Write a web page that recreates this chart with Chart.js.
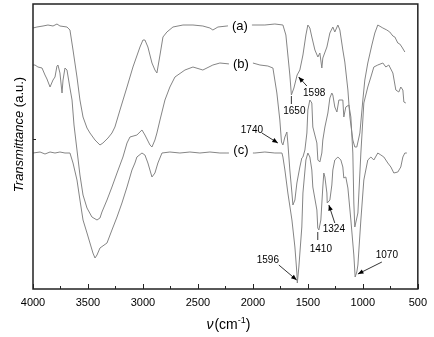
<!DOCTYPE html>
<html>
<head>
<meta charset="utf-8">
<script src="https://cdn.jsdelivr.net/npm/chart.js@4"></script>
<style>
  body { margin: 0; background: #fff; }
  #wrap { width: 434px; height: 337px; }
</style>
</head>
<body>
<div id="wrap"><canvas id="ftir" width="434" height="337"></canvas></div>
<script>
// wavenumber (cm-1) and transmittance (a.u., curves stacked)
const waveA = [4000,3964,3909,3864,3818,3782,3755,3691,3664,3636,3600,3573,3545,3509,3482,3436,3391,3364,3318,3282,3255,3209,3145,3091,3027,3000,2982,2955,2918,2891,2873,2845,2818,2782,2727,2636,2545,2455,2391,2364,2318,2236,2164,2000,1891,1800,1727,1700,1682,1664,1650,1627,1609,1598,1573,1545,1518,1500,1482,1464,1436,1409,1391,1373,1364,1327,1300,1273,1255,1227,1209,1182,1164,1136,1118,1091,1073,1055,1027,1000,982,955,918,891,864,818,782,755,727,709,682,664,645,618];
const transA = [2.61,2.62,2.63,2.64,2.63,2.65,2.63,2.62,2.59,2.39,2.12,1.89,1.72,1.61,1.56,1.49,1.44,1.46,1.51,1.56,1.62,1.79,2.02,2.22,2.42,2.49,2.49,2.42,2.26,2.19,2.16,2.34,2.52,2.57,2.62,2.64,2.64,2.63,2.61,2.59,2.62,2.63,2.64,2.64,2.64,2.65,2.64,2.54,2.34,2.14,1.94,2.01,2.09,2.14,2.19,2.34,2.54,2.64,2.61,2.52,2.39,2.32,2.36,2.21,2.31,2.42,2.56,2.62,2.57,2.64,2.59,2.39,2.27,1.99,1.72,1.49,1.42,1.42,1.56,1.89,2.09,2.26,2.44,2.56,2.64,2.61,2.59,2.57,2.53,2.52,2.46,2.45,2.42,2.37];

const waveB = [4000,3982,3955,3918,3891,3873,3845,3818,3800,3782,3773,3755,3736,3727,3709,3691,3664,3645,3627,3600,3573,3545,3509,3464,3418,3391,3373,3327,3282,3236,3182,3145,3118,3055,3009,2982,2936,2918,2891,2873,2845,2800,2755,2709,2618,2545,2455,2364,2300,2209,2000,1936,1864,1818,1782,1755,1740,1727,1709,1691,1682,1664,1645,1636,1618,1600,1573,1555,1545,1527,1509,1500,1482,1464,1455,1418,1409,1391,1373,1364,1345,1318,1300,1282,1273,1255,1236,1218,1182,1173,1155,1127,1109,1091,1082,1073,1045,1018,991,955,927,900,864,818,791,764,727,700,673,655,636,627,609];
const transB = [2.24,2.24,2.22,2.21,2.14,2.10,2.02,2.09,2.12,2.23,2.24,2.16,1.96,2.09,2.21,2.19,2.01,1.89,1.64,1.39,1.14,0.94,0.81,0.72,0.69,0.71,0.77,0.89,1.02,1.16,1.32,1.46,1.52,1.54,1.59,1.54,1.44,1.42,1.49,1.56,1.69,1.89,2.02,2.12,2.19,2.22,2.19,2.24,2.26,2.25,2.26,2.24,2.23,2.21,1.96,1.69,1.47,1.44,1.52,1.57,1.46,1.19,0.96,0.84,0.89,1.06,1.22,1.31,1.32,1.39,1.56,1.79,1.89,1.86,1.62,1.46,1.29,1.27,1.36,1.49,1.62,1.76,1.91,1.96,1.94,1.82,1.77,1.89,1.89,1.72,1.82,1.84,1.72,1.36,0.86,0.62,0.76,1.36,1.86,2.02,2.12,2.22,2.24,2.26,2.22,2.24,2.16,1.99,1.97,2.02,1.99,1.87,1.86];

const waveC = [4000,3936,3891,3845,3800,3755,3709,3664,3636,3600,3573,3545,3509,3482,3455,3436,3418,3391,3327,3282,3236,3191,3145,3100,3073,3055,3009,2982,2955,2918,2891,2864,2827,2755,2664,2573,2482,2391,2300,2236,1982,1891,1800,1736,1727,1709,1682,1645,1618,1600,1596,1582,1555,1545,1518,1500,1482,1464,1455,1418,1410,1400,1382,1364,1355,1345,1327,1324,1300,1282,1273,1255,1227,1200,1182,1173,1155,1136,1109,1082,1070,1055,1045,1018,991,955,927,900,864,836,809,773,745,718,682,655,636,618,600];
const transC = [1.36,1.37,1.35,1.37,1.36,1.37,1.36,1.36,1.26,1.09,0.89,0.69,0.56,0.46,0.36,0.31,0.34,0.41,0.46,0.59,0.72,0.86,1.02,1.19,1.26,1.32,1.36,1.34,1.26,1.12,1.16,1.26,1.36,1.37,1.36,1.37,1.36,1.37,1.36,1.36,1.36,1.37,1.36,1.36,1.32,1.19,0.96,0.69,0.42,0.16,0.06,0.22,0.62,0.96,1.29,1.36,1.32,1.19,1.02,0.79,0.61,0.59,0.69,1.02,1.16,1.12,0.96,0.86,0.89,1.04,1.19,1.29,1.32,1.29,1.22,1.11,1.12,1.01,0.69,0.34,0.12,0.17,0.24,0.69,1.09,1.29,1.32,1.29,1.36,1.34,1.32,1.26,1.22,1.16,1.17,1.22,1.32,1.36,1.36];

const curveNames = ["(a)", "(b)", "(c)"];
const peakLabels = ["1650", "1598", "1740", "1596", "1410", "1324", "1070"];

const FONT = '"Liberation Sans", Arial, sans-serif';
const LINE = "#858585";

function zip(xs, ys) {
    return xs.map((x, i) => ({ x: x, y: ys[i] }));
}

// where each curve name sits (wavenumber, transmittance)
const namePos = [[2118, 2.63], [2109, 2.25], [2109, 1.39]];

// peak markers: text centre, then a leader line (arrow or plain)
const peakMarks = [
    { at: [1623, 1.78], from: [1650, 1.93], to: [1650, 1.85], head: false },
    { at: [1443, 1.96], from: [1509, 2.03], to: [1584, 2.12], head: true },
    { at: [2009, 1.59], from: [1918, 1.56], to: [1773, 1.46], head: true },
    { at: [1864, 0.29], from: [1764, 0.24], to: [1602, 0.09], head: true },
    { at: [1382, 0.40], from: [1410, 0.57], to: [1410, 0.49], head: false },
    { at: [1264, 0.60], from: [1255, 0.66], to: [1309, 0.84], head: true },
    { at: [782, 0.34], from: [827, 0.27], to: [1045, 0.15], head: true }
];

function drawArrow(ctx, x1, y1, x2, y2, head) {
    ctx.beginPath();
    ctx.moveTo(x1, y1);
    ctx.lineTo(x2, y2);
    ctx.stroke();
    if (!head) return;
    const a = Math.atan2(y2 - y1, x2 - x1);
    ctx.beginPath();
    ctx.moveTo(x2, y2);
    ctx.lineTo(x2 - 6 * Math.cos(a - 0.4), y2 - 6 * Math.sin(a - 0.4));
    ctx.lineTo(x2 - 6 * Math.cos(a + 0.4), y2 - 6 * Math.sin(a + 0.4));
    ctx.closePath();
    ctx.fill();
}

const decorations = {
    id: "decorations",
    afterDatasetsDraw(chart) {
        const ctx = chart.ctx;
        const xs = chart.scales.x;
        const ys = chart.scales.y;
        const area = chart.chartArea;
        ctx.save();

        // curve names, with a white box that breaks the line
        ctx.font = "13px " + FONT;
        ctx.textAlign = "center";
        ctx.textBaseline = "middle";
        curveNames.forEach((name, i) => {
            const px = xs.getPixelForValue(namePos[i][0]);
            const py = ys.getPixelForValue(namePos[i][1]);
            ctx.fillStyle = "#fff";
            ctx.fillRect(px - 12, py - 7, 24, 14);
            ctx.fillStyle = "#000";
            ctx.fillText(name, px, py);
        });

        // peak labels
        ctx.font = "10px " + FONT;
        ctx.strokeStyle = "#000";
        ctx.fillStyle = "#000";
        ctx.lineWidth = 0.8;
        peakLabels.forEach((txt, i) => {
            const m = peakMarks[i];
            ctx.fillText(txt, xs.getPixelForValue(m.at[0]), ys.getPixelForValue(m.at[1]));
            drawArrow(ctx,
                xs.getPixelForValue(m.from[0]), ys.getPixelForValue(m.from[1]),
                xs.getPixelForValue(m.to[0]), ys.getPixelForValue(m.to[1]), m.head);
        });

        // frame
        ctx.strokeStyle = "#222";
        ctx.lineWidth = 1.5;
        ctx.strokeRect(area.left, area.top, area.right - area.left, area.bottom - area.top);

        // inward ticks on the wavenumber axis, minor every 250
        ctx.lineWidth = 1;
        for (let v = 500; v <= 4000; v += 250) {
            const px = Math.round(xs.getPixelForValue(v)) + 0.5;
            const len = v % 500 === 0 ? 5 : 3;
            ctx.beginPath();
            ctx.moveTo(px, area.bottom);
            ctx.lineTo(px, area.bottom - len);
            ctx.stroke();
        }
        // the lone tick on the left axis
        const ty = Math.round(ys.getPixelForValue(1.5)) + 0.5;
        ctx.beginPath();
        ctx.moveTo(area.left, ty);
        ctx.lineTo(area.left + 3, ty);
        ctx.stroke();

        // y title: italic "Transmittance" + " (a.u.)"
        ctx.fillStyle = "#000";
        ctx.save();
        ctx.translate(19, (area.top + area.bottom) / 2 - 12);
        ctx.rotate(-Math.PI / 2);
        ctx.textAlign = "left";
        ctx.textBaseline = "middle";
        const it = "italic 13px " + FONT;
        const rg = "13px " + FONT;
        ctx.font = it;
        const w1 = ctx.measureText("Transmittance").width;
        ctx.font = rg;
        const w2 = ctx.measureText(" (a.u.)").width;
        let sx = -(w1 + w2) / 2;
        ctx.font = it;
        ctx.fillText("Transmittance", sx, 0);
        ctx.font = rg;
        ctx.fillText(" (a.u.)", sx + w1, 0);
        ctx.restore();

        // x title: italic nu, (cm^-1)
        ctx.textAlign = "left";
        ctx.textBaseline = "alphabetic";
        const big = "14px " + FONT;
        const sup = "9px " + FONT;
        ctx.font = "italic " + big;
        const a1 = ctx.measureText("\u03bd").width;
        ctx.font = big;
        const a2 = ctx.measureText("(cm").width;
        const a4 = ctx.measureText(")").width;
        ctx.font = sup;
        const a3 = ctx.measureText("-1").width;
        const cx = (area.left + area.right) / 2 + 3;
        const base = 329;
        let x0 = cx - (a1 + a2 + a3 + a4 + 1) / 2;
        ctx.font = "italic " + big;
        ctx.fillText("\u03bd", x0, base);
        x0 += a1 + 1;
        ctx.font = big;
        ctx.fillText("(cm", x0, base);
        x0 += a2;
        ctx.font = sup;
        ctx.fillText("-1", x0, base - 6);
        x0 += a3;
        ctx.font = big;
        ctx.fillText(")", x0, base);

        ctx.restore();
    }
};

Chart.defaults.font.family = FONT;

new Chart(document.getElementById("ftir"), {
    type: "line",
    data: {
        datasets: [
            { label: curveNames[0], data: zip(waveA, transA) },
            { label: curveNames[1], data: zip(waveB, transB) },
            { label: curveNames[2], data: zip(waveC, transC) }
        ].map(d => Object.assign(d, {
            borderColor: LINE,
            borderWidth: 1,
            pointRadius: 0,
            tension: 0,
            fill: false
        }))
    },
    options: {
        responsive: false,
        animation: false,
        events: [],
        layout: { padding: { left: 33, right: 16, top: 4, bottom: 0 } },
        plugins: { legend: { display: false }, tooltip: { enabled: false } },
        scales: {
            x: {
                type: "linear",
                reverse: true,
                min: 500,
                max: 4000,
                grid: { display: false, drawTicks: false },
                border: { display: false },
                ticks: {
                    stepSize: 250,
                    autoSkip: false,
                    maxRotation: 0,
                    padding: 7,
                    color: "#000",
                    font: { size: 11 },
                    callback: v => (v % 500 === 0 ? String(v) : "")
                },
                afterFit: s => { s.height = 48; }
            },
            y: {
                display: false,
                min: 0,
                max: 2.85
            }
        }
    },
    plugins: [decorations]
});
</script>
</body>
</html>
